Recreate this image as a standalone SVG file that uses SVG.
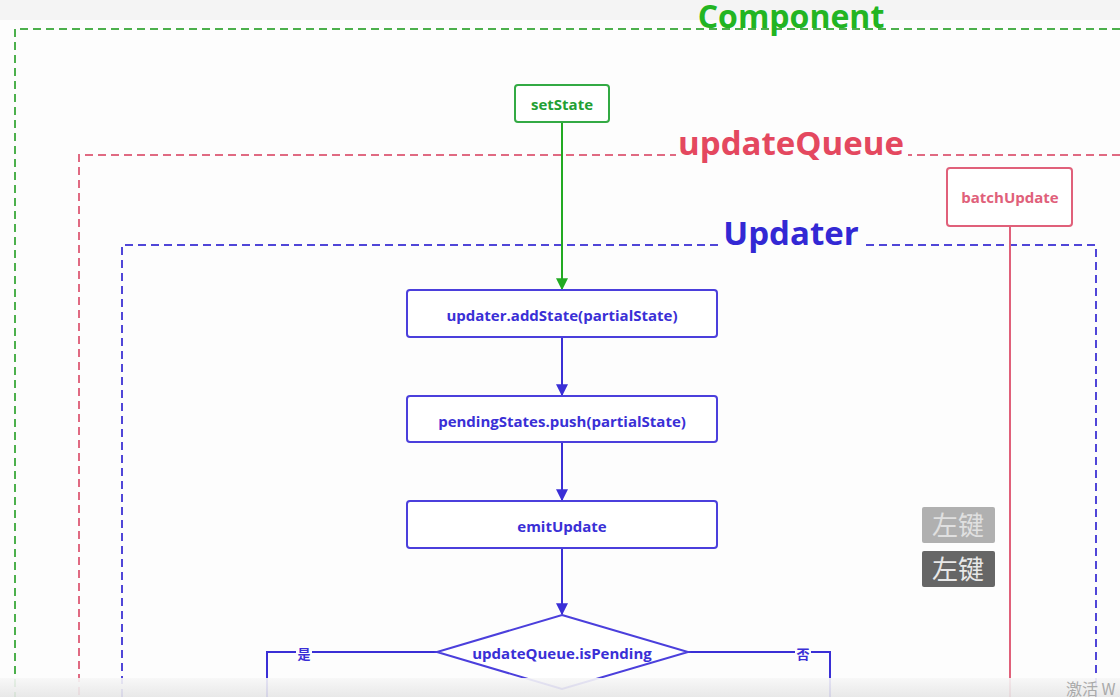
<svg xmlns="http://www.w3.org/2000/svg" width="1120" height="697" viewBox="0 0 1120 697">
<defs>
<style>
.t{font-family:"Open Sans","Noto Sans",sans-serif;font-weight:bold;text-anchor:middle}
.box{fill:#fff;stroke-width:2}
.blue{stroke:#4b3fdc}
.bt{fill:#3a2fd6;font-size:15px}
.title{font-size:33px}
.cjk{font-family:"Noto Sans CJK SC",sans-serif;text-anchor:middle}
</style>
<marker id="ab" viewBox="0 0 10 10" refX="9" refY="5" markerWidth="6" markerHeight="6" orient="auto"><path d="M0,0L10,5L0,10z" fill="#3a2fd6"/></marker>
<marker id="ag" viewBox="0 0 10 10" refX="9" refY="5" markerWidth="6" markerHeight="6" orient="auto"><path d="M0,0L10,5L0,10z" fill="#22aa22"/></marker>
<linearGradient id="bar" x1="0" y1="0" x2="0" y2="1"><stop offset="0" stop-color="#f7f7f7"/><stop offset="1" stop-color="#e6e6e6"/></linearGradient>
</defs>
<rect width="1120" height="697" fill="#fdfdfd"/>
<rect width="1120" height="20" fill="#f4f4f4"/>

<g id="component-frame">
<path d="M1120,29H15V697" fill="none" stroke="#4cb04c" stroke-width="2" stroke-dasharray="8,5"/>
<text class="t" x="791" y="28" font-size="32" fill="#22b522">Component</text>
</g>
<g id="updatequeue-frame">
<path d="M1120,155H79V697" fill="none" stroke="#e06a82" stroke-width="2" stroke-dasharray="8,5"/>
<rect x="676" y="130" width="232" height="30" fill="#fdfdfd"/>
<text class="t title" x="791" y="155" fill="#e4485f">updateQueue</text>
</g>
<g id="updater-frame">
<path d="M122,697V245H1096V697" fill="none" stroke="#5046d8" stroke-width="2" stroke-dasharray="8,5"/>
<rect x="722" y="220" width="140" height="30" fill="#fdfdfd"/>
<text class="t title" x="791" y="245" fill="#3328d4">Updater</text>
</g>

<g id="connectors" fill="none" stroke-width="2">
<line x1="562" y1="122" x2="562" y2="289" stroke="#22aa22" marker-end="url(#ag)"/>
<line x1="562" y1="337" x2="562" y2="395" stroke="#3a2fd6" marker-end="url(#ab)"/>
<line x1="562" y1="442" x2="562" y2="500" stroke="#3a2fd6" marker-end="url(#ab)"/>
<line x1="562" y1="548" x2="562" y2="614" stroke="#3a2fd6" marker-end="url(#ab)"/>
<path d="M437,652H267V697" stroke="#3a2fd6"/>
<path d="M688,652H830V697" stroke="#3a2fd6"/>
<line x1="1010" y1="226" x2="1010" y2="697" stroke="#e0607a"/>
<rect x="296" y="645" width="16" height="16" fill="#fdfdfd" stroke="none"/>
<rect x="795" y="645" width="16" height="16" fill="#fdfdfd" stroke="none"/>
<text class="cjk" x="304" y="659" font-size="13" font-weight="bold" fill="#3a2fd6" stroke="none">是</text>
<text class="cjk" x="803" y="659" font-size="13" font-weight="bold" fill="#3a2fd6" stroke="none">否</text>
</g>

<g id="setState">
<rect x="515" y="85" width="94" height="37" rx="3" class="box" stroke="#33aa44"/>
<text class="t" x="562" y="110" font-size="15" fill="#22a033">setState</text>
</g>
<g id="batchUpdate">
<rect x="947" y="168" width="125" height="58" rx="3" class="box" stroke="#e0607a"/>
<text class="t" x="1010" y="203" font-size="15" fill="#e0607a">batchUpdate</text>
</g>
<g id="addState">
<rect x="407" y="290" width="310" height="47" rx="3" class="box blue"/>
<text class="t bt" x="562" y="321">updater.addState(partialState)</text>
</g>
<g id="pendingStates">
<rect x="407" y="396" width="310" height="46" rx="3" class="box blue"/>
<text class="t bt" x="562" y="427">pendingStates.push(partialState)</text>
</g>
<g id="emitUpdate">
<rect x="407" y="501" width="310" height="47" rx="3" class="box blue"/>
<text class="t bt" x="562" y="532">emitUpdate</text>
</g>
<g id="isPending">
<polygon points="562,615 688,652 562,689 437,652" class="box blue"/>
<text class="t bt" x="562" y="659">updateQueue.isPending</text>
</g>

<g id="overlay">
<rect x="922" y="507" width="73" height="36" rx="2" fill="#b0b0b0"/>
<text class="cjk" x="958" y="535" font-size="26" fill="#e0e0e0">左键</text>
<rect x="922" y="551" width="73" height="36" rx="2" fill="#666"/>
<text class="cjk" x="958" y="579" font-size="26" fill="#e8e8e8">左键</text>
<rect x="0" y="678" width="1120" height="19" fill="url(#bar)" opacity="0.9"/>
<text x="1066" y="695" font-family="'Noto Sans CJK SC',sans-serif" font-size="16" fill="#aaa">激活 W</text>
</g>
</svg>
